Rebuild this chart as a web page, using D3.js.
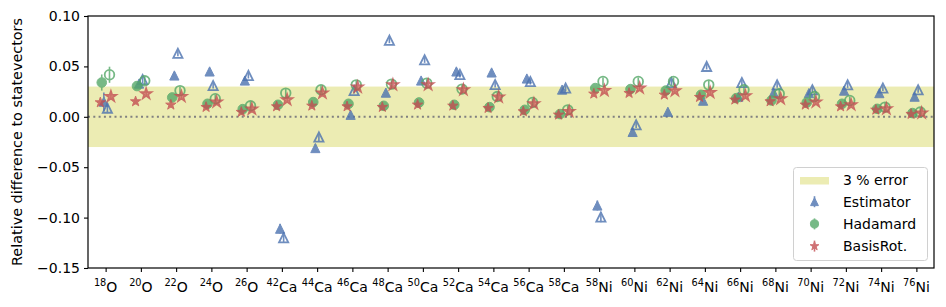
<!DOCTYPE html>
<html>
<head>
<meta charset="utf-8">
<script src="https://cdn.jsdelivr.net/npm/d3@7"></script>
<style>
  body { margin: 0; background: #fff; }
  text { font-family: "DejaVu Sans", sans-serif; fill: #000; }
</style>
</head>
<body>
<div id="chart"></div>
<script>
//Nuclei on the x axis: mass number and element
var masses = ["18","20","22","24","26","42","44","46","48","50","52","54","56","58","58","60","62","64","66","68","70","72","74","76"];
var elements = ["O","O","O","O","O","Ca","Ca","Ca","Ca","Ca","Ca","Ca","Ca","Ca","Ni","Ni","Ni","Ni","Ni","Ni","Ni","Ni","Ni","Ni"];

//Relative differences (filled marker = first set, open marker = second set)
var estFilled = [0.015, 0.033, 0.041, 0.045, 0.036, -0.111, -0.031, 0.002, 0.024, 0.036, 0.045, 0.044, 0.038, 0.027, -0.088, -0.015, 0.005, 0.016, 0.020, 0.024, 0.0235, 0.026, 0.0235, 0.020];
var estOpen = [0.0086, 0.037, 0.063, 0.031, 0.041, -0.120, -0.020, 0.026, 0.076, 0.0565, 0.042, 0.032, 0.035, 0.0285, -0.0995, -0.008, 0.034, 0.050, 0.034, 0.0317, 0.0268, 0.0317, 0.0285, 0.0268];
var hadFilled = [0.034, 0.0305, 0.0192, 0.0129, 0.0076, 0.0119, 0.0146, 0.0129, 0.0109, 0.0142, 0.0119, 0.0096, 0.0069, 0.0027, 0.0285, 0.0275, 0.026, 0.0218, 0.0185, 0.0162, 0.0142, 0.0129, 0.0079, 0.0037];
var hadOpen = [0.0417, 0.0357, 0.026, 0.0179, 0.0109, 0.0235, 0.0268, 0.0317, 0.0324, 0.0334, 0.0275, 0.0201, 0.0142, 0.0069, 0.035, 0.035, 0.035, 0.0317, 0.0268, 0.0228, 0.0201, 0.0162, 0.0096, 0.0047];
var rotFilled = [0.0142, 0.0152, 0.0119, 0.0096, 0.0047, 0.0102, 0.0109, 0.0102, 0.0096, 0.0119, 0.0109, 0.0086, 0.0053, 0.002, 0.0228, 0.0235, 0.0218, 0.0195, 0.0169, 0.0152, 0.0119, 0.0102, 0.0069, 0.0027];
var rotOpen = [0.0201, 0.0228, 0.0201, 0.0146, 0.0076, 0.0169, 0.0235, 0.0294, 0.0317, 0.0317, 0.0268, 0.0195, 0.0129, 0.0053, 0.026, 0.0285, 0.0258, 0.0241, 0.0208, 0.0179, 0.0146, 0.0119, 0.0079, 0.0037];

//Error bars (half widths)
var estErrFilled = [0.009, 0.004, 0.003, 0.003, 0.003, 0.005, 0.004, 0.003, 0.003, 0.003, 0.003, 0.003, 0.003, 0.003, 0.005, 0.003, 0.003, 0.003, 0.003, 0.003, 0.003, 0.003, 0.003, 0.003];
var estErrOpen = [0.005, 0.004, 0.003, 0.003, 0.003, 0.005, 0.004, 0.003, 0.003, 0.003, 0.003, 0.003, 0.003, 0.003, 0.005, 0.003, 0.003, 0.003, 0.003, 0.003, 0.003, 0.003, 0.003, 0.003];
var hadErrFilled = [0.008, 0.004, 0.004, 0.003, 0.003, 0.003, 0.003, 0.003, 0.003, 0.003, 0.003, 0.003, 0.003, 0.003, 0.004, 0.004, 0.004, 0.003, 0.003, 0.003, 0.003, 0.003, 0.003, 0.003];
var hadErrOpen = [0.008, 0.004, 0.004, 0.004, 0.004, 0.004, 0.004, 0.004, 0.004, 0.004, 0.004, 0.004, 0.004, 0.004, 0.004, 0.004, 0.004, 0.004, 0.004, 0.004, 0.004, 0.004, 0.004, 0.004];
var rotErrFilled = [0.003, 0.003, 0.003, 0.003, 0.003, 0.003, 0.003, 0.003, 0.003, 0.003, 0.003, 0.003, 0.003, 0.003, 0.003, 0.003, 0.003, 0.003, 0.003, 0.003, 0.003, 0.003, 0.003, 0.003];
var rotErrOpen = [0.003, 0.003, 0.003, 0.003, 0.003, 0.003, 0.003, 0.003, 0.003, 0.003, 0.003, 0.003, 0.003, 0.003, 0.003, 0.003, 0.003, 0.003, 0.003, 0.003, 0.003, 0.003, 0.003, 0.003];

var yTicks = [-0.15, -0.10, -0.05, 0.00, 0.05, 0.10];
var band = 0.03;

//Size of the page and the axes box
var width = 946;
var height = 307;
var padL = 88, padR = 934, padT = 16, padB = 268;

var svg = d3.select("#chart")
  .append("svg")
  .attr("width", width)
  .attr("height", height);

var idx = d3.range(masses.length);
var x = d3.scaleLinear().domain([-0.5, masses.length - 0.5]).range([padL, padR]);
var y = d3.scaleLinear().domain([-0.15, 0.10]).range([padB, padT]);

//Shaded 3 % band
svg.append("rect")
  .attr("x", padL)
  .attr("width", padR - padL)
  .attr("y", y(band))
  .attr("height", y(-band) - y(band))
  .attr("fill", "#ececb3");

//Dotted zero line
svg.append("line")
  .attr("x1", padL).attr("x2", padR)
  .attr("y1", y(0)).attr("y2", y(0))
  .attr("stroke", "#808080")
  .attr("stroke-width", 2)
  .attr("stroke-dasharray", "2,3.3");

//Marker shapes, r = half height
function triangle(p, r) {
  p.moveTo(0, -r); p.lineTo(-r, r); p.lineTo(r, r); p.closePath();
}
function circle(p, r) {
  p.moveTo(r, 0); p.arc(0, 0, r, 0, 2 * Math.PI); p.closePath();
}
function star(p, r) {
  var ri = r * 0.381966;
  for (var k = 0; k < 10; k++) {
    var rr = k % 2 === 0 ? r : ri;
    var a = -Math.PI / 2 + k * Math.PI / 5;
    if (k === 0) p.moveTo(rr * Math.cos(a), rr * Math.sin(a));
    else p.lineTo(rr * Math.cos(a), rr * Math.sin(a));
  }
  p.closePath();
}
function shapePath(fn, r) {
  var p = d3.path();
  fn(p, r);
  return p.toString();
}

var methods = [
  {name: "Estimator", color: "#4c72b0", shape: triangle, r: 4.6, dx: 0.05, openFill: 0,
   filled: estFilled, open: estOpen, errF: estErrFilled, errO: estErrOpen},
  {name: "Hadamard", color: "#55a868", shape: circle, r: 4.8, dx: 0.11, openFill: 0,
   filled: hadFilled, open: hadOpen, errF: hadErrFilled, errO: hadErrOpen},
  {name: "BasisRot.", color: "#c44e52", shape: star, r: 5.4, dx: 0.15, openFill: 0.6,
   filled: rotFilled, open: rotOpen, errF: rotErrFilled, errO: rotErrOpen}
];

var plot = svg.append("g");

function drawSeries(m, vals, errs, shift, isOpen) {
  var g = plot.append("g").attr("opacity", 0.8);
  g.selectAll("line")
    .data(idx)
    .enter()
    .append("line")
    .attr("x1", function(i) { return x(i + shift); })
    .attr("x2", function(i) { return x(i + shift); })
    .attr("y1", function(i) { return y(vals[i] - errs[i]); })
    .attr("y2", function(i) { return y(vals[i] + errs[i]); })
    .attr("stroke", m.color)
    .attr("stroke-width", 1.6);
  g.selectAll("path")
    .data(idx)
    .enter()
    .append("path")
    .attr("d", shapePath(m.shape, m.r))
    .attr("transform", function(i) { return "translate(" + x(i + shift) + "," + y(vals[i]) + ")"; })
    .attr("fill", m.color)
    .attr("fill-opacity", isOpen ? m.openFill : 1)
    .attr("stroke", m.color)
    .attr("stroke-width", isOpen ? 1.8 : 1)
    .attr("stroke-linejoin", "miter");
}

methods.forEach(function(m) {
  drawSeries(m, m.filled, m.errF, -m.dx, false);
  drawSeries(m, m.open, m.errO, m.dx, true);
});

//Axes box
svg.append("rect")
  .attr("x", padL).attr("y", padT)
  .attr("width", padR - padL).attr("height", padB - padT)
  .attr("fill", "none")
  .attr("stroke", "#000")
  .attr("stroke-width", 1.2);

//Y axis
var yAxis = svg.append("g")
  .attr("transform", "translate(" + padL + ",0)")
  .call(d3.axisLeft(y).tickValues(yTicks).tickFormat(d3.format(".2f")).tickSize(4).tickPadding(4));
yAxis.select(".domain").remove();
yAxis.selectAll("text").style("font-size", "14px").style("font-family", "DejaVu Sans").attr("fill", "#000");
yAxis.selectAll("line").attr("stroke-width", 1.1);

//X axis with superscript mass numbers
var xAxis = svg.append("g")
  .attr("transform", "translate(0," + padB + ")")
  .call(d3.axisBottom(x).tickValues(idx).tickFormat("").tickSize(4));
xAxis.select(".domain").remove();
xAxis.selectAll("line").attr("stroke-width", 1.1);

var xLabels = svg.append("g").selectAll("text")
  .data(idx)
  .enter()
  .append("text")
  .attr("x", function(i) { return x(i); })
  .attr("y", 292)
  .attr("text-anchor", "middle");
xLabels.append("tspan")
  .attr("font-size", "9.8px")
  .attr("dy", -6)
  .text(function(i) { return masses[i]; });
xLabels.append("tspan")
  .attr("font-size", "14px")
  .attr("dy", 6)
  .text(function(i) { return elements[i]; });

//Y axis title
svg.append("text")
  .attr("transform", "translate(22," + ((padT + padB) / 2) + ")rotate(-90)")
  .attr("text-anchor", "middle")
  .style("font-size", "14.4px")
  .text("Relative difference to statevectors");

//Legend
var legend = svg.append("g");
legend.append("rect")
  .attr("x", 793.5).attr("y", 167.5)
  .attr("width", 134).attr("height", 93)
  .attr("rx", 3)
  .attr("fill", "#fff")
  .attr("fill-opacity", 0.8)
  .attr("stroke", "#d0d0d0");
legend.append("rect")
  .attr("x", 800).attr("y", 177)
  .attr("width", 29).attr("height", 7.5)
  .attr("fill", "#ececb3");
legend.append("text")
  .attr("x", 843).attr("y", 185)
  .style("font-size", "14px")
  .text("3 % error");

methods.forEach(function(m, k) {
  var cy = 201.7 + k * 22.2;
  var g = legend.append("g").attr("opacity", 0.8);
  g.append("line")
    .attr("x1", 814.5).attr("x2", 814.5)
    .attr("y1", cy - 5.5).attr("y2", cy + 5.5)
    .attr("stroke", m.color)
    .attr("stroke-width", 1.6);
  g.append("path")
    .attr("d", shapePath(m.shape, m.r * 0.85))
    .attr("transform", "translate(814.5," + cy + ")")
    .attr("fill", m.color)
    .attr("stroke", m.color);
  legend.append("text")
    .attr("x", 843).attr("y", cy + 5)
    .style("font-size", "14px")
    .text(m.name);
});
</script>
</body>
</html>
